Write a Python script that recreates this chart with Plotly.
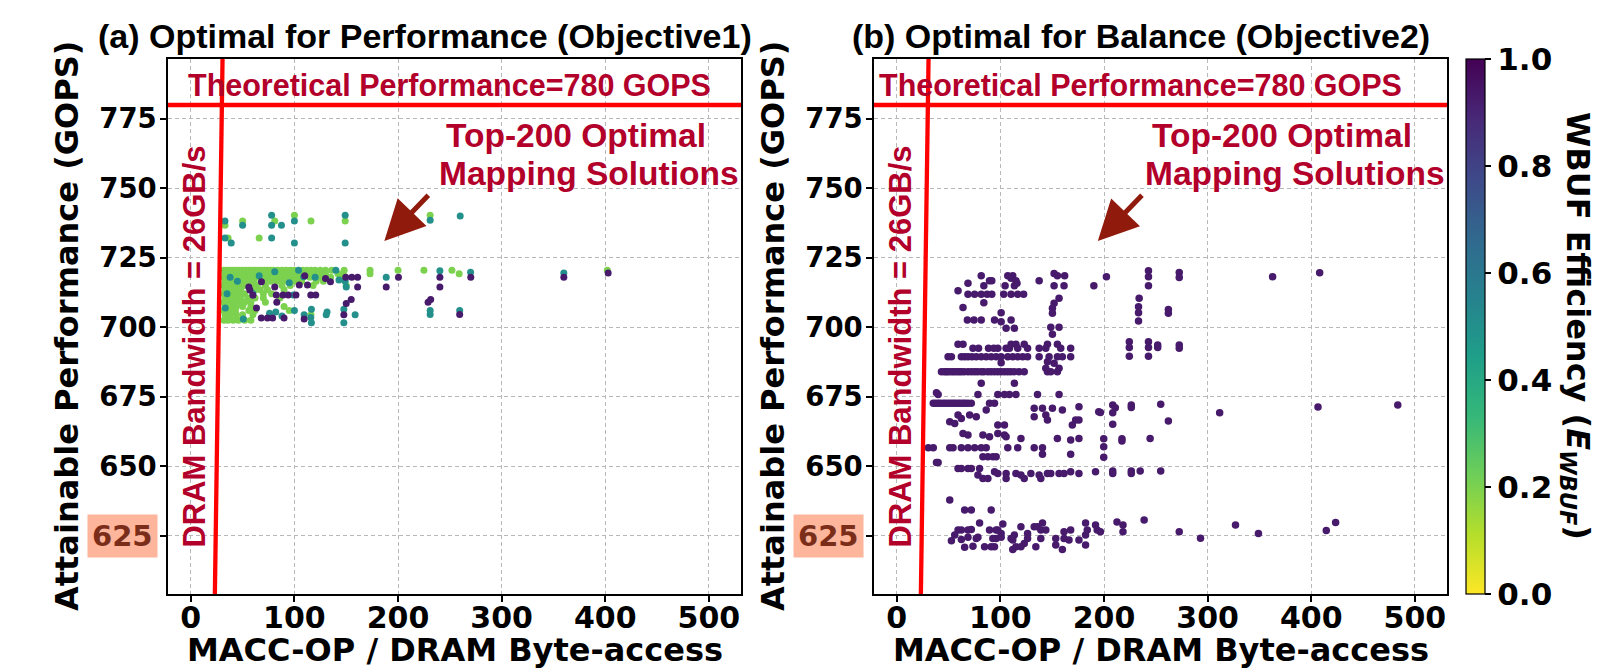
import plotly.graph_objects as go

# ---------------- data ----------------
THEORETICAL_GOPS = 780
DRAM_BW = 26  # GB/s

X_TICKS = [0, 100, 200, 300, 400, 500]
Y_TICKS = [625, 650, 675, 700, 725, 750, 775]
CB_TICKS = [0.0, 0.2, 0.4, 0.6, 0.8, 1.0]
X_RANGE = [-22, 531]
Y_RANGE = [604, 796.5]

EFF_GREEN, EFF_TEAL, EFF_PURPLE = 0.2, 0.5, 0.93

# (a) Objective1 - green points, rows (y, [x ...])
left_green_rows = [
    (720.5, [32, 35, 38, 41, 44, 47, 50, 53, 56, 59, 62, 65, 68, 71, 74, 77, 80, 84, 88, 92, 96, 100, 108,
             112, 116, 120, 125, 130, 136, 148, 173, 200, 225, 252, 402]),
    (719.2, [33, 36, 40, 44, 48, 52, 56, 60, 64, 68, 72, 76, 80, 84, 88, 92, 96, 100, 104, 112, 118,
             124, 130, 142, 147, 173, 259]),
    (718.0, [32, 35, 39, 43, 47, 51, 55, 59, 63, 71, 75, 79, 85, 91, 97, 103, 115, 125, 135, 145]),
    (716.5, [33, 37, 41, 49, 53, 57, 61, 71, 77, 83, 89, 101, 107, 121, 128]),
    (715.0, [32, 36, 40, 44, 48, 52, 60, 64, 72, 88, 96, 118, 150]),
    (713.5, [33, 38, 43, 48, 62, 67, 74, 90]),
    (712.0, [32, 40, 44, 48, 52, 70, 78]),
    (710.5, [33, 38, 43, 48, 55, 62, 70, 86]),
    (709.0, [32, 36, 41, 46, 52, 58, 72]),
    (707.5, [33, 38, 44, 50, 58, 90]),
    (706.0, [32, 37, 43, 56, 62, 95]),
    (704.5, [33, 38, 44, 50, 60, 116]),
    (702.5, [32, 36, 41, 46, 52, 58]),
]
left_green_pts = [
    (33, 736.7), (50, 738.2), (81, 738.2), (100, 740.3), (116, 738.2), (149, 738.2), (36, 732.1),
    (66, 732.1), (231, 740.3),
]
left_teal = [
    (33, 738.2), (50, 736.7), (78, 740.3), (78, 736.7), (87.5, 736.7), (100, 738.2), (149, 740.3),
    (33, 732.1), (39, 730.3), (78, 732.1), (100, 730.3), (149, 730.3), (231, 738.5), (260, 740),
    (81, 720), (109, 718.2), (188.6, 718), (240.4, 720.3), (270, 719.8), (360, 719.5), (150, 714.5),
    (149, 716.5), (231, 706), (231, 704.6), (259.5, 706), (116.4, 706.5), (116.4, 701.6), (147.7, 706.5),
    (147.7, 701.6), (130.7, 704.5), (158.6, 704.5), (76, 705), (82, 705.5), (100, 706), (115.8, 703.5),
    (131.5, 705.5), (33.3, 706.9), (50.7, 703), (109.4, 704.5), (99, 711.6), (60, 712), (120, 718),
    (95, 716), (104, 720.5), (140, 720.5), (45, 716.5), (88, 704), (38, 718), (66, 718.5), (143, 717),
    (35, 712),
]
left_purple = [
    (68.2, 716.4), (81, 714.5), (82.5, 711.6), (89, 711.6), (94, 711.6), (101.5, 711.6), (104.7, 715.2),
    (112.6, 715.2), (115.8, 711.6), (120.6, 711.6), (134.8, 716.4), (57, 713.4), (56, 714.5), (68, 703.3),
    (74, 703.3), (79, 703.3), (90, 703.3), (109.4, 703), (63.4, 706.9), (83, 709), (161, 718), (161, 714.5),
    (155.4, 718), (149.5, 718), (154.8, 710), (150, 708.5), (147.7, 704.5), (188.6, 714.5), (200.4, 718),
    (240.4, 718), (240.4, 714.5), (231.5, 710), (229, 709), (259.5, 704.6), (270.2, 718), (360, 718),
    (402.8, 719.5), (60, 711.5), (110, 718.5), (130, 717.5),
]

# (b) Objective2 - all points (dark purple), rows (y, [x ...]) and single points
right_rows = [
    (711.9, [68.7, 75.1, 81.5, 87.2, 91.7, 103.2, 110.3, 116.7, 122.4]),
    (702.6, [68.1, 74.5, 81.5, 94.3, 110.3]),
    (693.9, [59.1, 63.9, 110.3, 115, 123, 145.4, 155]),
    (692.4, [73.5, 78.9, 88.5, 93.6, 97.5, 105.5, 108.7, 116.7, 126.2, 137.4, 143.8, 158.2, 167.8]),
    (689.4, [49.5, 52.7, 62.3, 65.5, 68.7, 72.5, 76.7, 81.5, 86.3, 91.1, 95.9, 100.7, 107.1, 111.9, 116.7,
             121.5, 126.2, 137.4, 147, 155, 159.8, 167.8]),
    (684.0, [43.1, 46, 48, 50, 52.7, 55, 57.5, 60, 62.3, 65, 68.7, 72, 75.1, 78, 81.5, 84, 87.9, 91, 94.3,
             97.5, 100.7, 103.9, 107, 110, 113.5, 118, 123, 145.4, 148.6, 155]),
    (675.8, [39.9, 78.3, 97.5, 103.9, 108.7, 115, 135.8, 156.6]),
    (672.6, [35.2, 37.5, 39.9, 42, 44.7, 47, 49.5, 52, 54.3, 56.5, 59.1, 61.5, 63.9, 66, 68.7, 71.9,
             89.5, 94.3]),
    (656.6, [30.4, 35.2, 51.1, 54.3, 62.3, 68.7, 75.1, 81.5, 86.3, 107.1, 116.7, 132.6, 140.6]),
    (653.4, [83.1, 87.9, 92.7, 95.9]),
    (649.2, [59.1, 62.3, 68.7, 71.9, 79.9]),
]
right_points = [
    (81.5, 718.5), (89.5, 716.7), (91.7, 716.7), (84, 714.9), (68.7, 715.8), (59.1, 713.1), (107.1, 718.5),
    (111.9, 718.5), (110.3, 717.6), (115, 716.7), (104.5, 714.9), (113.5, 714.9), (116, 715.8),
    (151.8, 719.3), (155, 718.5), (162, 718.5), (137.4, 716.7), (151.8, 714.9), (161.4, 714.9),
    (190.2, 714.9), (84, 708.8), (63.9, 707.1), (156.6, 710.4), (151.8, 708.6), (150.2, 706.8),
    (150.2, 705), (100.7, 705.2), (100.7, 702), (105.5, 699.6), (113.5, 699.6), (148.6, 700),
    (156.6, 700), (150.2, 697.5), (100.7, 687.2), (145.4, 687.6), (151.8, 687), (143.8, 685.2),
    (156.6, 685.2), (81.5, 679.8), (113.5, 679.8), (38.3, 676.4), (59.1, 668.4), (70.3, 668.4),
    (76.7, 667.8), (86.3, 670.2), (51.1, 666), (55.9, 665.4), (62.3, 667.2), (132.6, 670.8), (140.6, 670.8),
    (150.2, 670.8), (159.8, 670.2), (175.8, 671.4), (194.9, 669.6), (132.6, 667.8), (143.8, 668.4),
    (145.4, 666.6), (172.6, 666.6), (175.8, 666.6), (169.4, 664.8), (63.9, 661.8), (68.7, 661.2),
    (83.1, 661.2), (89.5, 660.6), (97.5, 661.8), (103.9, 661.2), (105.5, 660.6), (97.5, 664.8),
    (103.9, 664.8), (119.8, 660), (155, 660), (167.8, 659.4), (175.8, 660), (140.6, 654.3), (167.8, 654.3),
    (38.3, 651.3), (39.9, 651.3), (78.3, 646.8), (83.1, 645.6), (87.9, 645.6), (94.3, 648), (97.5, 647.4),
    (105.5, 647.4), (105.5, 645.6), (115, 647.4), (119.8, 646.8), (123, 645.6), (129.4, 647.4),
    (137.4, 646.8), (139, 645.6), (145.4, 647.4), (148.6, 647.4), (156.6, 647.4), (161.4, 647.4),
    (167.8, 648), (175.8, 647.4), (191.8, 648), (51.1, 637.8), (65.5, 634.2), (71.9, 634.2), (91.1, 634.2),
    (79.9, 629.6), (59.1, 627), (62.3, 627), (68.7, 627), (71.9, 627.2), (89.5, 627), (95.9, 627),
    (97.5, 627), (102.3, 629.2), (100.7, 625.8), (113.5, 625.2), (119.8, 628.2), (126.2, 625.8),
    (132.6, 628.2), (135.8, 628.2), (140.6, 629.6), (139, 627), (143.8, 627), (161.4, 626.4), (167.8, 627),
    (182.2, 629.6), (183.8, 627), (191.8, 628.8), (193.4, 627), (52.7, 623.2), (55.9, 625.2), (62.3, 623.6),
    (68.7, 624.4), (76.7, 624), (78.3, 624.4), (92.7, 624), (95.9, 624), (100.7, 624.4), (110.3, 624),
    (111.9, 623.4), (126.2, 624), (139, 624), (153.4, 624), (161.4, 624), (166.2, 623.4), (175.8, 623.4),
    (182.2, 625.2), (65.5, 620.8), (73.5, 621.2), (84.7, 621), (91.1, 621), (94.3, 621), (111.9, 620),
    (115, 621), (119.8, 621), (123, 622.2), (134.2, 621), (153.4, 621.6), (159.8, 620), (182.2, 621.6),
    (202.3, 718.2), (242.9, 720.3), (242.9, 718.2), (242.9, 714.9), (272.6, 719.7), (272.6, 717.9),
    (362.7, 718.2), (408.1, 719.6), (233.9, 710.4), (233.3, 707.4), (233.3, 705.2), (233.3, 702.2),
    (262.1, 706.4), (262.1, 705), (224.4, 694.8), (224.4, 692.7), (224.4, 689.6), (242.9, 694.8),
    (242.9, 692.7), (242.9, 689.6), (251.8, 693.6), (251.8, 692.7), (272.6, 693.6), (272.6, 692.4),
    (208.4, 672), (210.9, 671), (208.4, 669.2), (208.4, 665.1), (226.3, 672), (226.3, 671.1), (254.7, 672.3),
    (262.1, 666.3), (311.6, 669.2), (406.5, 671.3), (483.5, 672), (196.5, 669.3), (199.7, 659.9),
    (199.7, 657), (199.7, 653.2), (217.3, 659.9), (217.3, 659.1), (244.5, 660), (208.4, 648.3),
    (208.4, 647.4), (226.3, 648.3), (226.3, 647.4), (234.9, 648.3), (254.7, 648.3), (212.5, 629.9),
    (218.3, 628.8), (218.3, 626.4), (238.7, 630.6), (272.6, 626.4), (293.1, 624.1), (326.9, 628.8),
    (349, 625.8), (414.5, 626.9), (423.5, 629.7), (196.5, 626.4),
]

# ---------------- build arrays ----------------
lx, ly, le = [], [], []
for yv, xs in left_green_rows:
    for xv in xs:
        lx.append(xv); ly.append(yv); le.append(EFF_GREEN)
for xv, yv in left_green_pts:
    lx.append(xv); ly.append(yv); le.append(EFF_GREEN)
for xv, yv in left_teal:
    lx.append(xv); ly.append(yv); le.append(EFF_TEAL)
for xv, yv in left_purple:
    lx.append(xv); ly.append(yv); le.append(EFF_PURPLE)

rx, ry = [], []
for yv, xs in right_rows:
    for xv in xs:
        rx.append(xv); ry.append(yv)
for xv, yv in right_points:
    rx.append(xv); ry.append(yv)
re_ = [EFF_PURPLE] * len(rx)

RED = '#FF0000'
TXT_RED = '#B2002B'
ARROW = '#901A0C'
DV = 'DejaVu Sans'
LIB = 'Liberation Sans, Arial, sans-serif'

fig = go.Figure()

fig.add_trace(go.Scatter(
    x=lx, y=ly, mode='markers', xaxis='x', yaxis='y',
    marker=dict(size=7, color=le, colorscale='Viridis_r', cmin=0, cmax=1, showscale=False),
    showlegend=False, hoverinfo='skip'))
fig.add_trace(go.Scatter(
    x=rx, y=ry, mode='markers', xaxis='x2', yaxis='y2',
    marker=dict(size=7.5, color=re_, colorscale='Viridis_r', cmin=0, cmax=1, showscale=True,
                colorbar=dict(x=1466 / 1619, xanchor='left', xpad=0, ypad=0,
                              thickness=19, thicknessmode='pixels',
                              len=0.7985, lenmode='fraction', y=0.1134, yanchor='bottom',
                              outlinewidth=1.2, outlinecolor='black',
                              tickvals=CB_TICKS, ticktext=[f'{v:.1f}' for v in CB_TICKS],
                              ticks='outside', ticklen=6, tickwidth=1.5, tickcolor='black',
                              tickfont=dict(family=DV, size=31, color='black', weight='bold'))),
    showlegend=False, hoverinfo='skip'))

# roofline lines
for xa, ya in (('x', 'y'), ('x2', 'y2')):
    fig.add_trace(go.Scatter(x=X_RANGE, y=[THEORETICAL_GOPS] * 2, mode='lines', xaxis=xa, yaxis=ya,
                             line=dict(color=RED, width=4.5), showlegend=False, hoverinfo='skip'))
    bw_x = [Y_RANGE[0] / DRAM_BW, Y_RANGE[1] / DRAM_BW]
    fig.add_trace(go.Scatter(x=bw_x, y=[v * DRAM_BW for v in bw_x], mode='lines', xaxis=xa, yaxis=ya,
                             line=dict(color=RED, width=4.3), showlegend=False, hoverinfo='skip'))

axis_common = dict(showgrid=True, gridcolor='#b8b8b8', gridwidth=1, griddash='4px,3px',
                   showline=True, linecolor='black', linewidth=1.5, mirror=True,
                   ticks='outside', ticklen=6, tickwidth=1.5, tickcolor='black', zeroline=False)
xax = dict(axis_common, range=X_RANGE, tickvals=X_TICKS, ticktext=[str(v) for v in X_TICKS],
           ticklabelstandoff=-10,
           tickfont=dict(family=DV, size=30, color='black', weight='bold'))
yax = dict(axis_common, range=Y_RANGE, tickvals=Y_TICKS,
           ticktext=['' if v == 625 else str(v) for v in Y_TICKS], ticklabelstandoff=-2,
           tickfont=dict(family=DV, size=27.5, color='black', weight='bold'))

fig.update_layout(
    width=1619, height=670, margin=dict(l=0, r=0, t=0, b=0),
    paper_bgcolor='white', plot_bgcolor='white',
    xaxis=dict(xax, domain=[168 / 1619, 741 / 1619], anchor='y'),
    yaxis=dict(yax, domain=[0.1134, 0.9119], anchor='x'),
    xaxis2=dict(xax, domain=[874 / 1619, 1447 / 1619], anchor='y2'),
    yaxis2=dict(yax, domain=[0.1134, 0.9119], anchor='x2'),
)

ann = []
panels = [('x', 'y', 168, '(a) Optimal for Performance (Objective1)', 425, 250, 230.6, 186.8),
          ('x2', 'y2', 874, '(b) Optimal for Balance (Objective2)', 1141, 235, 238, 194)]
for xa, ya, x0, title, tx, theo_x, arr_tail, arr_tip in panels:
    ann.append(dict(text=title, xref='paper', yref='paper', x=tx / 1619, y=1 - 36 / 670,
                    xanchor='center', yanchor='middle', showarrow=False,
                    font=dict(family=LIB, size=34, color='black', weight='bold')))
    ann.append(dict(text='Theoretical Performance=780 GOPS', xref=xa, yref='paper', x=theo_x,
                    y=1 - 85 / 670, xanchor='center', yanchor='middle', showarrow=False,
                    font=dict(family=LIB, size=30.5, color=TXT_RED, weight='bold')))
    ann.append(dict(text='Top-200 Optimal', xref=xa, yref='paper', x=372, y=1 - 135 / 670,
                    xanchor='center', yanchor='middle', showarrow=False,
                    font=dict(family=LIB, size=33.5, color=TXT_RED, weight='bold')))
    ann.append(dict(text='Mapping Solutions', xref=xa, yref='paper', x=384, y=1 - 173 / 670,
                    xanchor='center', yanchor='middle', showarrow=False,
                    font=dict(family=LIB, size=33.5, color=TXT_RED, weight='bold')))
    ann.append(dict(text='DRAM Bandwidth = 26GB/s', xref=xa, yref=ya, x=4, y=693, textangle=-90,
                    xanchor='center', yanchor='middle', showarrow=False,
                    font=dict(family=LIB, size=31, color=TXT_RED, weight='bold')))
    ann.append(dict(text='', xref=xa, yref=ya, x=arr_tip, y=731, axref=xa, ayref=ya,
                    ax=arr_tail, ay=748, showarrow=True, arrowhead=2, arrowsize=1.6,
                    arrowwidth=5, arrowcolor=ARROW, standoff=0))
    ann.append(dict(text='625', xref='paper', yref=ya, x=(x0 - 10) / 1619, y=625, xanchor='right',
                    yanchor='middle', showarrow=False, bgcolor='#FDB59B', borderpad=4,
                    font=dict(family=DV, size=29, color='#7A2E1A', weight='bold')))
    ann.append(dict(text='MACC-OP / DRAM Byte-access', xref=xa, yref='paper', x=254.5,
                    y=1 - 650 / 670, xanchor='center', yanchor='middle', showarrow=False,
                    font=dict(family=DV, size=32, color='black', weight='bold')))
    ann.append(dict(text='Attainable Performance (GOPS)', xref='paper', yref='paper',
                    x=(x0 - 101) / 1619, y=1 - 326 / 670, textangle=-90,
                    xanchor='center', yanchor='middle', showarrow=False,
                    font=dict(family=DV, size=32, color='black', weight='bold')))

ann.append(dict(text='WBUF Efficiency (<i>E<sub>WBUF</sub></i>)', xref='paper', yref='paper',
                x=1576 / 1619, y=1 - 326 / 670, textangle=90, xanchor='center', yanchor='middle',
                showarrow=False, font=dict(family=DV, size=32, color='black', weight='bold')))

fig.update_layout(annotations=ann)
fig.write_html('out.html', config={'displayModeBar': False},
               post_script="document.body.style.margin='0';document.body.style.padding='0';")
